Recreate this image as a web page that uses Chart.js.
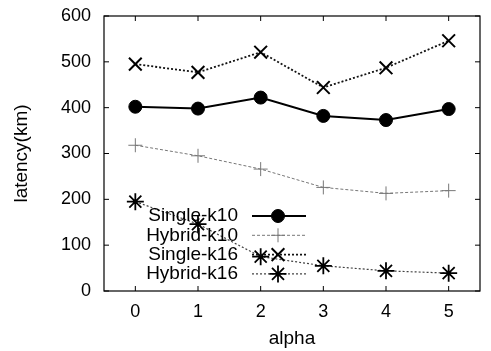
<!DOCTYPE html>
<html>
<head>
<meta charset="utf-8">
<script src="https://cdn.jsdelivr.net/npm/chart.js@4/dist/chart.umd.min.js"></script>
<style>
  html, body { margin: 0; padding: 0; background: #fff; }
  #box { width: 491px; height: 351px; }
</style>
</head>
<body>
<div id="box"><canvas id="grafico"></canvas></div>
<script>
const alphas = ['0', '1', '2', '3', '4', '5']
const singleK10 = [402, 398, 422, 382, 373, 397]
const hybridK10 = [318, 295, 266, 226, 213, 219]
const singleK16 = [495, 477, 521, 444, 487, 546]
const hybridK16 = [195, 146, 75, 55, 44, 39]
const yTicks = [0, 100, 200, 300, 400, 500, 600]

const fuente = "'Liberation Sans', Arial, sans-serif"

// marco completo y marcas hacia adentro (estilo gnuplot)
const marco = {
    id: 'marco',
    afterDatasetsDraw(chart) {
        const ctx = chart.ctx
        const a = chart.chartArea
        const x = chart.scales.x, y = chart.scales.y
        ctx.save()
        ctx.strokeStyle = '#000'
        ctx.lineWidth = 1.2
        ctx.strokeRect(a.left, a.top, a.right - a.left, a.bottom - a.top)
        ctx.lineWidth = 1
        ctx.beginPath()
        for (let i = 0; i < alphas.length; i++) {
            const px = x.getPixelForValue(i)
            ctx.moveTo(px, a.bottom); ctx.lineTo(px, a.bottom - 5)
            ctx.moveTo(px, a.top); ctx.lineTo(px, a.top + 5)
        }
        yTicks.forEach(v => {
            const py = y.getPixelForValue(v)
            ctx.moveTo(a.left, py); ctx.lineTo(a.left + 5, py)
            ctx.moveTo(a.right, py); ctx.lineTo(a.right - 5, py)
        })
        ctx.stroke()
        ctx.restore()
    }
}

// leyenda tipo gnuplot: texto a la derecha alineado, muestra de línea al lado
const leyenda = {
    id: 'leyenda',
    afterDatasetsDraw(chart) {
        const ctx = chart.ctx
        const a = chart.chartArea
        ctx.save()
        ctx.font = '19px ' + fuente
        ctx.textAlign = 'right'
        ctx.textBaseline = 'middle'
        chart.data.datasets.forEach((ds, i) => {
            const fy = a.bottom - 75 + i * 19.3
            ctx.fillStyle = '#000'
            ctx.fillText(ds.label, a.left + 134, fy)
            ctx.strokeStyle = ds.borderColor
            ctx.lineWidth = ds.borderWidth
            ctx.setLineDash(ds.borderDash || [])
            ctx.beginPath()
            ctx.moveTo(a.left + 148, fy)
            ctx.lineTo(a.left + 202, fy)
            ctx.stroke()
            ctx.setLineDash([])
            ctx.fillStyle = ds.pointBackgroundColor
            ctx.strokeStyle = ds.pointBorderColor
            ctx.lineWidth = ds.pointBorderWidth
            Chart.helpers.drawPoint(ctx, {
                pointStyle: ds.pointStyle, radius: ds.pointRadius, borderWidth: ds.pointBorderWidth, rotation: 0
            }, a.left + 174, fy)
        })
        ctx.restore()
    }
}

new Chart(document.getElementById('grafico'), {
    type: 'line',
    data: {
        labels: alphas,
        datasets: [{
            label: 'Single-k10',
            data: singleK10,
            borderColor: '#000',
            borderWidth: 2,
            pointStyle: 'circle',
            pointRadius: 6.5,
            pointBackgroundColor: '#000',
            pointBorderColor: '#000',
            pointBorderWidth: 1
        }, {
            label: 'Hybrid-k10',
            data: hybridK10,
            borderColor: '#777',
            borderWidth: 1,
            borderDash: [3, 2],
            pointStyle: 'cross',
            pointRadius: 7,
            pointBackgroundColor: '#777',
            pointBorderColor: '#777',
            pointBorderWidth: 1
        }, {
            label: 'Single-k16',
            data: singleK16,
            borderColor: '#111',
            borderWidth: 1.8,
            borderDash: [2, 2],
            pointStyle: 'crossRot',
            pointRadius: 9,
            pointBackgroundColor: '#000',
            pointBorderColor: '#000',
            pointBorderWidth: 2
        }, {
            label: 'Hybrid-k16',
            data: hybridK16,
            borderColor: '#444',
            borderWidth: 1.2,
            borderDash: [2, 2],
            pointStyle: 'star',
            pointRadius: 8.5,
            pointBackgroundColor: '#000',
            pointBorderColor: '#000',
            pointBorderWidth: 1.8
        }]
    },
    options: {
        responsive: true,
        maintainAspectRatio: false,
        animation: false,
        layout: { padding: { top: 16, right: 3, left: 0, bottom: 0 } },
        plugins: { legend: { display: false }, tooltip: { enabled: false } },
        scales: {
            x: {
                type: 'category',
                offset: true,
                grid: { display: false, drawTicks: false },
                border: { display: false },
                ticks: { color: '#000', font: { family: fuente, size: 18 }, padding: 10 },
                title: { display: true, text: 'alpha', color: '#000', font: { family: fuente, size: 19 }, padding: { top: 4, bottom: 1 } },
                afterFit: s => { s.height = 60; s.paddingLeft = 0; s.paddingRight = 0 }
            },
            y: {
                min: 0,
                max: 600,
                afterBuildTicks: s => { s.ticks = yTicks.map(v => ({ value: v })) },
                grid: { display: false, drawTicks: false },
                border: { display: false },
                ticks: { color: '#000', font: { family: fuente, size: 18 }, padding: 13 },
                title: { display: true, text: 'latency(km)', color: '#000', font: { family: fuente, size: 19 }, padding: { top: 10, bottom: 4 } },
                afterFit: s => { s.width = 104; s.paddingTop = 0; s.paddingBottom = 0 }
            }
        }
    },
    plugins: [marco, leyenda]
})
</script>
</body>
</html>
